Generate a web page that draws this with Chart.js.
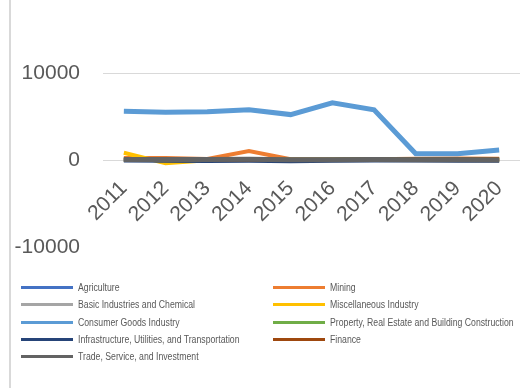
<!DOCTYPE html>
<html>
<head>
<meta charset="utf-8">
<script src="https://cdn.jsdelivr.net/npm/chart.js@4"></script>
<style>
    body { margin: 0; background: #fff; }
    #wrap { position: relative; width: 527px; height: 388px; overflow: hidden; }
    #frame { position: absolute; left: 9px; top: 0; width: 2px; height: 388px; background: #d9d9d9; }
    #box { position: absolute; left: 0; top: 0; width: 527px; height: 283px; }
    #legend { position: absolute; left: 0; top: 279px; width: 527px; }
    .item { position: absolute; height: 17px; line-height: 17px; font-family: "Liberation Sans", Arial, sans-serif; font-size: 10px; color: #595959; white-space: nowrap; }
    .item span.swatch { position: absolute; left: 0; top: 7px; width: 52px; height: 3px; }
    .item span.label { position: absolute; left: 57px; top: 0; transform: scaleX(0.87); transform-origin: left center; }
</style>
</head>
<body>
<div id="wrap">
    <div id="frame"></div>
    <div id="box"><canvas id="lineChart"></canvas></div>
    <div id="legend"></div>
</div>
<script>
// Données du graphique
const years = ['2011', '2012', '2013', '2014', '2015', '2016', '2017', '2018', '2019', '2020'];
const yTicks = [-10000, 0, 10000];

const agriculture = [100, 80, 60, 120, 50, 40, 90, 70, 60, 50];
const mining = [250, 250, 150, 1050, 100, 80, 120, 180, 200, 180];
const basicIndustries = [60, 90, 70, 80, 40, 60, 100, 80, 70, 60];
const miscIndustry = [850, -350, 0, 100, 50, 20, 60, 80, 60, 40];
const consumerGoods = [5620, 5500, 5560, 5780, 5230, 6590, 5780, 730, 730, 1160];
const property = [50, 100, 80, 120, 60, 70, 150, 100, 120, 90];
const infrastructure = [-40, -60, -80, -60, -120, -50, -30, -40, -50, -60];
const finance = [60, 70, 50, 80, 40, 60, 70, 120, 110, 100];
const tradeService = [80, 90, 70, 100, 40, 50, 80, 60, 40, 20];

const seriesNames = [
    'Agriculture', 'Mining', 'Basic Industries and Chemical', 'Miscellaneous Industry',
    'Consumer Goods Industry', 'Property, Real Estate and Building Construction',
    'Infrastructure, Utilities, and Transportation', 'Finance', 'Trade, Service, and Investment'
];
const seriesData = [agriculture, mining, basicIndustries, miscIndustry, consumerGoods, property, infrastructure, finance, tradeService];
const seriesColors = ['#4472c4', '#ed7d31', '#a5a5a5', '#ffc000', '#5b9bd5', '#70ad47', '#264478', '#9e480e', '#636363'];

document.addEventListener('DOMContentLoaded', function() {
    createLineChart();
    buildLegend();
});

function createLineChart() {
    const ctx = document.getElementById('lineChart').getContext('2d');

    new Chart(ctx, {
        type: 'line',
        data: {
            labels: years,
            datasets: seriesData.map((values, i) => ({
                label: seriesNames[i],
                data: values,
                borderColor: seriesColors[i],
                backgroundColor: seriesColors[i],
                borderWidth: (i === 4 || i === 8) ? 5 : 4,
                pointRadius: 0,
                tension: 0,
                order: seriesData.length - i
            }))
        },
        options: {
            responsive: true,
            maintainAspectRatio: false,
            animation: false,
            layout: {
                padding: { top: 73, bottom: 25, right: 7, left: 0 }
            },
            plugins: {
                legend: { display: false },
                tooltip: { enabled: false }
            },
            scales: {
                x: {
                    position: { y: 0 },
                    offset: true,
                    grid: { display: false },
                    border: { display: false },
                    ticks: {
                        autoSkip: false,
                        minRotation: 45,
                        maxRotation: 45,
                        padding: 8,
                        color: '#595959',
                        font: { family: 'Liberation Sans, Arial, sans-serif', size: 21 }
                    }
                },
                y: {
                    min: yTicks[0],
                    max: yTicks[yTicks.length - 1],
                    afterFit: function(scale) {
                        scale.width = 103;
                    },
                    afterBuildTicks: function(scale) {
                        scale.ticks = yTicks.map(v => ({ value: v }));
                    },
                    grid: {
                        drawTicks: false,
                        color: function(c) {
                            return c.tick && c.tick.value === yTicks[0] ? 'rgba(0,0,0,0)' : '#d9d9d9';
                        }
                    },
                    border: { display: false },
                    ticks: {
                        padding: 23,
                        color: '#595959',
                        font: { family: 'Liberation Sans, Arial, sans-serif', size: 21 },
                        callback: function(value) {
                            return String(value);
                        }
                    }
                }
            }
        }
    });
}

function buildLegend() {
    // Légende sur deux colonnes, comme dans Excel
    const container = document.getElementById('legend');
    container.innerHTML = seriesNames.map((name, i) => {
        const col = i % 2;
        const row = Math.floor(i / 2);
        const left = col === 0 ? 21 : 273;
        const top = row * 17.3;
        return `<div class="item" style="left:${left}px; top:${top}px;">
                    <span class="swatch" style="background:${seriesColors[i]}"></span>
                    <span class="label">${name}</span>
                </div>`;
    }).join('');
}
</script>
</body>
</html>
